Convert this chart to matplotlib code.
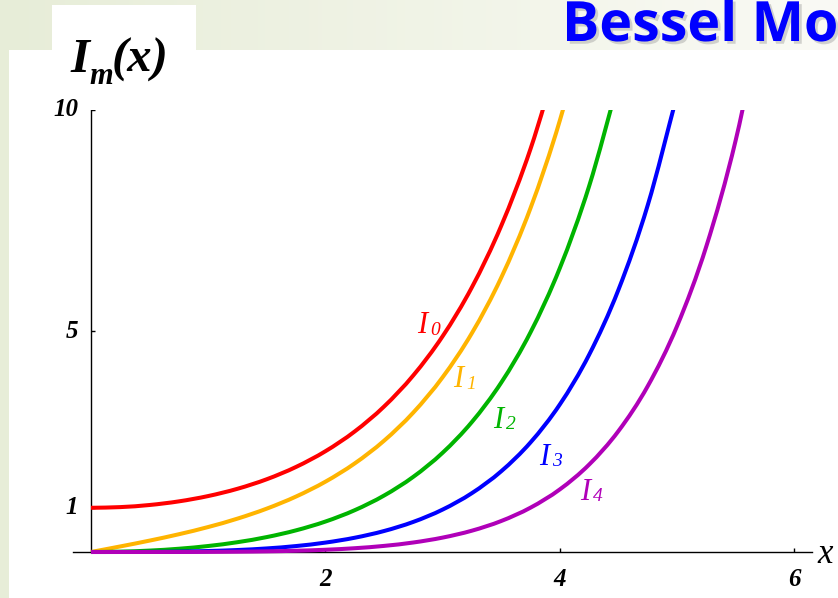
import numpy as np
import matplotlib.pyplot as plt
from matplotlib import patheffects
from matplotlib.path import Path
from matplotlib.patches import PathPatch

# modified Bessel functions of the first kind, sampled every 0.25
x_grid = [0.0, 0.25, 0.5, 0.75, 1.0, 1.25, 1.5, 1.75, 2.0, 2.25, 2.5, 2.75,
          3.0, 3.25, 3.5, 3.75, 4.0, 4.25, 4.5, 4.75, 5.0, 5.25, 5.5, 5.75]

i0_vals = [1.0, 1.0157, 1.0635, 1.1456, 1.2661, 1.4305, 1.6467, 1.9252, 2.2796,
           2.7271, 3.2898, 3.9959, 4.8808, 5.9893, 7.3782, 9.1189, 11.3019]
i1_vals = [0.0, 0.1260, 0.2579, 0.4020, 0.5652, 0.7553, 0.9817, 1.2555, 1.5906,
           2.0040, 2.5167, 3.1554, 3.9534, 4.9526, 6.2058, 7.7800, 9.7595, 12.2509]
i2_vals = [0.0, 0.0079, 0.0319, 0.0737, 0.1357, 0.2220, 0.3378, 0.4904, 0.6889,
           0.9458, 1.2765, 1.7011, 2.2452, 2.9416, 3.8320, 4.9695, 6.4222, 8.2762,
           10.6415]
i3_vals = [0.0, 0.0003, 0.0026, 0.0091, 0.0222, 0.0448, 0.0808, 0.1347, 0.2127,
           0.3226, 0.4744, 0.6811, 0.9598, 1.3321, 1.8264, 2.4791, 3.3373, 4.4616,
           5.9301, 7.8435, 10.3312]
i4_vals = [0.0, 0.00001, 0.0002, 0.0008, 0.0027, 0.0069, 0.0147, 0.0284, 0.0507,
           0.0855, 0.1380, 0.2150, 0.3257, 0.4824, 0.7011, 1.0030, 1.4163, 1.9775,
           2.7350, 3.7509, 5.1083, 6.9138, 9.3070, 12.4693]

orders = ["0", "1", "2", "3", "4"]
curve_colors = ["#ff0000", "#ffb400", "#00b400", "#0000ff", "#b000b8"]
# where each I_m tag sits (left edge / baseline of the "I")
label_pos = [(2.78, 4.95), (3.09, 3.73), (3.43, 2.81), (3.82, 1.97), (4.17, 1.18)]

x_ticks = [2, 4, 6]
y_ticks = [1, 5, 10]


def smooth_path(xs, ys):
    """Catmull-Rom through the samples, written as cubic Bezier segments."""
    pts = np.column_stack([xs, ys])
    padded = np.vstack([2 * pts[0] - pts[1], pts, 2 * pts[-1] - pts[-2]])
    verts = [pts[0]]
    codes = [Path.MOVETO]
    for i in range(1, len(padded) - 2):
        p0, p1, p2, p3 = padded[i - 1], padded[i], padded[i + 1], padded[i + 2]
        verts += [p1 + (p2 - p0) / 6, p2 - (p3 - p1) / 6, p2]
        codes += [Path.CURVE4] * 3
    return Path(verts, codes)


W, H = 838, 598
fig = plt.figure(figsize=(W / 100, H / 100), dpi=100)

# slide backdrop: pale green band along the top and a strip down the left
bg = fig.add_axes([0, 0, 1, 1], zorder=-10)
img = np.ones((H, W, 3))
left_c = np.array([231, 237, 216]) / 255
right_c = np.array([250, 250, 245]) / 255
t = np.linspace(0, 1, W)[:, None]
img[:50] = left_c + (right_c - left_c) * t
img[:, :9] = left_c
img[5:50, 52:196] = 1.0
bg.imshow(img, aspect="auto", interpolation="nearest")
bg.axis("off")

# plot area, laid out in pixels: origin at (91, 552), 117.2 px per x unit, 44.2 px per y unit
ox, oy, sx, sy = 91, 552, 117.2, 44.2
xlim = (-0.25, 6.3)
ylim = (-0.6, 10)
left_px = ox + xlim[0] * sx
right_px = ox + xlim[1] * sx
bot_px = oy - ylim[0] * sy
top_px = oy - ylim[1] * sy
ax = fig.add_axes([left_px / W, 1 - bot_px / H,
                   (right_px - left_px) / W, (bot_px - top_px) / H])
ax.set_xlim(*xlim)
ax.set_ylim(*ylim)
ax.axis("off")

# axes lines and ticks
ax.plot([-0.15, 6.15], [0, 0], color="black", lw=1.0, zorder=1)
ax.plot([0, 0], [0, 10], color="black", lw=1.0, zorder=1)
ax.hlines(y_ticks, 0, 0.035, color="black", lw=1.0, zorder=1)
ax.vlines(x_ticks, 0, 0.09, color="black", lw=1.0, zorder=1)

tick_font = dict(family="Liberation Serif", weight="bold", style="italic", fontsize=18)
for yt in y_ticks:
    ax.text(-0.11, yt, str(yt), ha="right", va="center", **tick_font)
for xt in x_ticks:
    ax.text(xt, -0.37, str(xt), ha="center", va="top", **tick_font)
ax.text(6.2, -0.25, "x", family="Liberation Serif", style="italic", fontsize=25,
        ha="left", va="baseline", clip_on=False)

# the curves, later orders on top
series = [i0_vals, i1_vals, i2_vals, i3_vals, i4_vals]
for k, (vals, c) in enumerate(zip(series, curve_colors)):
    curve = PathPatch(smooth_path(x_grid[:len(vals)], vals), fill=False,
                      edgecolor=c, lw=2.9, joinstyle="round", zorder=2 + k * 0.1)
    ax.add_patch(curve)

for (lx, ly), m, c in zip(label_pos, orders, curve_colors):
    ax.text(lx, ly, "I", family="Liberation Serif", style="italic", fontsize=22,
            color=c, va="baseline")
    ax.annotate(m, (lx, ly), xytext=(9.5, -1), textcoords="offset points",
                family="Liberation Serif", style="italic", fontsize=14,
                color=c, va="baseline")

# I_m(x) heading over the y axis
big = dict(family="Liberation Serif", weight="bold", style="italic")
fig.text(70 / W, 1 - 72 / H, "I", fontsize=35, va="baseline", **big)
fig.text(89 / W, 1 - 84 / H, "m", fontsize=22, va="baseline", **big)
fig.text(112 / W, 1 - 72 / H, "(x)", fontsize=35, va="baseline", **big)

title = fig.text(562 / W, 1 - 41 / H, "Bessel Mo", family="Open Sans",
                 weight="bold", fontsize=40, color="#0000ff", va="baseline")
title.set_path_effects([patheffects.withSimplePatchShadow(
    offset=(2, -2), shadow_rgbFace="#888888", alpha=0.35)])

fig.savefig("out.png", dpi=100)
